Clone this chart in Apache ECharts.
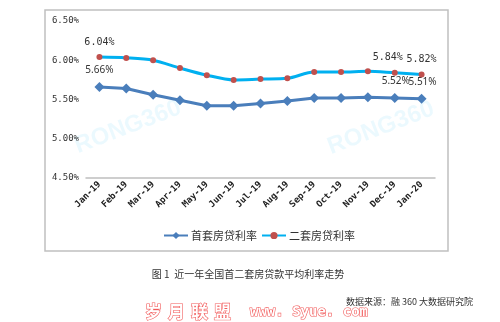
<!DOCTYPE html>
<html>
<head>
<meta charset="utf-8">
<script src="https://cdn.jsdelivr.net/npm/echarts@6/dist/echarts.min.js"></script>
<style>
  html, body { margin: 0; padding: 0; background: #fff; }
  #chart { width: 500px; height: 322px; }
</style>
</head>
<body>
<div id="chart"></div>
<script>
// Monthly average mortgage rates (%), Jan 2019 – Jan 2020
const months = ['Jan-19', 'Feb-19', 'Mar-19', 'Apr-19', 'May-19', 'Jun-19', 'Jul-19',
                'Aug-19', 'Sep-19', 'Oct-19', 'Nov-19', 'Dec-19', 'Jan-20'];
const firstHomeRate  = [5.66, 5.64, 5.56, 5.49, 5.42, 5.42, 5.45, 5.48, 5.52, 5.52, 5.53, 5.52, 5.51];
const secondHomeRate = [6.04, 6.03, 6.00, 5.90, 5.81, 5.75, 5.76, 5.77, 5.85, 5.85, 5.86, 5.84, 5.82];
const seriesNames = ['首套房贷利率', '二套房贷利率'];
// Indices of points that carry a value label
const firstLabelIdx = [0, 11, 12];
const secondLabelIdx = [0, 11, 12];

const monoFont = '"DejaVu Sans Mono", monospace';
const sansFont = '"Noto Sans", sans-serif';
const cjkFont = '"Noto Sans CJK SC", sans-serif';

function labelled(values, idxs, extra) {
  return values.map((v, i) => {
    if (!idxs.includes(i)) return v;
    const lab = Object.assign({ show: true, position: 'top', distance: 7,
      formatter: v.toFixed(2) + '%', color: '#333', fontSize: 10, fontFamily: monoFont },
      (extra && extra[i]) || {});
    return { value: v, label: lab };
  });
}

const watermark = (x, y) => ({
  type: 'text', silent: true, x, y, rotation: 21 * Math.PI / 180, z: -1,
  style: { text: 'RONG360', fontSize: 24, fontWeight: 'bold', fontFamily: '"Liberation Sans", sans-serif',
           fill: 'rgba(0,176,240,0.08)', align: 'center', verticalAlign: 'middle' }
});

const siteMark = (text, x, size, font) => ({
  type: 'text', silent: true, x, y: 312,
  style: { text, fontSize: size, fontWeight: 'bold', fontFamily: font,
           fill: '#fff', stroke: '#f25a5a', lineWidth: 1.2, align: 'left', verticalAlign: 'middle' }
});

const chart = echarts.init(document.getElementById('chart'), null, { renderer: 'canvas' });
chart.setOption({
  animation: false,
  backgroundColor: '#fff',
  grid: { left: 86, right: 65, top: 21, bottom: 144 },
  xAxis: {
    type: 'category',
    data: months,
    boundaryGap: true,
    axisLine: { lineStyle: { color: '#bfbfbf', width: 1.5 } },
    axisTick: { show: false },
    axisLabel: { rotate: 45, interval: 0, margin: 5, color: '#222', fontSize: 9,
                 fontWeight: 'bold', fontFamily: monoFont }
  },
  yAxis: {
    type: 'value',
    min: 4.5, max: 6.5, interval: 0.5,
    axisLine: { show: false },
    axisTick: { show: false },
    splitLine: { show: false },
    axisLabel: { formatter: v => v.toFixed(2) + '%', color: '#333', fontSize: 9,
                 fontFamily: monoFont, margin: 7 }
  },
  legend: {
    left: 158, top: 225,
    itemWidth: 24, itemHeight: 9, itemGap: 4,
    textStyle: { fontSize: 11, color: '#333', fontFamily: cjkFont, padding: [0, 0, 0, -2] },
    data: seriesNames
  },
  series: [
    {
      name: seriesNames[0],
      type: 'line',
      data: labelled(firstHomeRate, firstLabelIdx, {
        0: { fontFamily: sansFont },
        11: { offset: [1, 0], fontFamily: sansFont },
        12: { offset: [1, 0], fontFamily: sansFont }
      }),
      symbol: 'diamond',
      symbolSize: 10,
      lineStyle: { color: '#4a7ebb', width: 3 },
      itemStyle: { color: '#4a7ebb' },
      z: 3
    },
    {
      name: seriesNames[1],
      type: 'line',
      smooth: 0.3,
      data: labelled(secondHomeRate, secondLabelIdx, { 11: { offset: [-7, 0] } }),
      symbol: 'circle',
      symbolSize: 6,
      lineStyle: { color: '#00b0f0', width: 3 },
      itemStyle: { color: '#c0504d' },
      z: 4
    }
  ],
  graphic: [
    { type: 'rect', silent: true, z: -1,
      shape: { x: 45, y: 10, width: 403, height: 241 },
      style: { fill: 'none', stroke: '#c0c0c0', lineWidth: 1.5 } },
    watermark(128, 127),
    watermark(381, 128),
    { type: 'text', silent: true, x: 248, y: 274,
      style: { text: '图 1  近一年全国首二套房贷款平均利率走势', fontSize: 10, fill: '#333',
               fontFamily: cjkFont, align: 'center', verticalAlign: 'middle' } },
    { type: 'text', silent: true, x: 473, y: 302,
      style: { text: '数据来源：融 360 大数据研究院', fontSize: 9, fill: '#333',
               fontFamily: cjkFont, align: 'right', verticalAlign: 'middle' } },
    siteMark('岁', 145, 17, cjkFont),
    siteMark('月', 168, 17, cjkFont),
    siteMark('联', 191, 17, cjkFont),
    siteMark('盟', 214, 17, cjkFont),
    siteMark('www. Syue. com', 250, 14, '"DejaVu Sans Mono", monospace')
  ]
});
</script>
</body>
</html>
